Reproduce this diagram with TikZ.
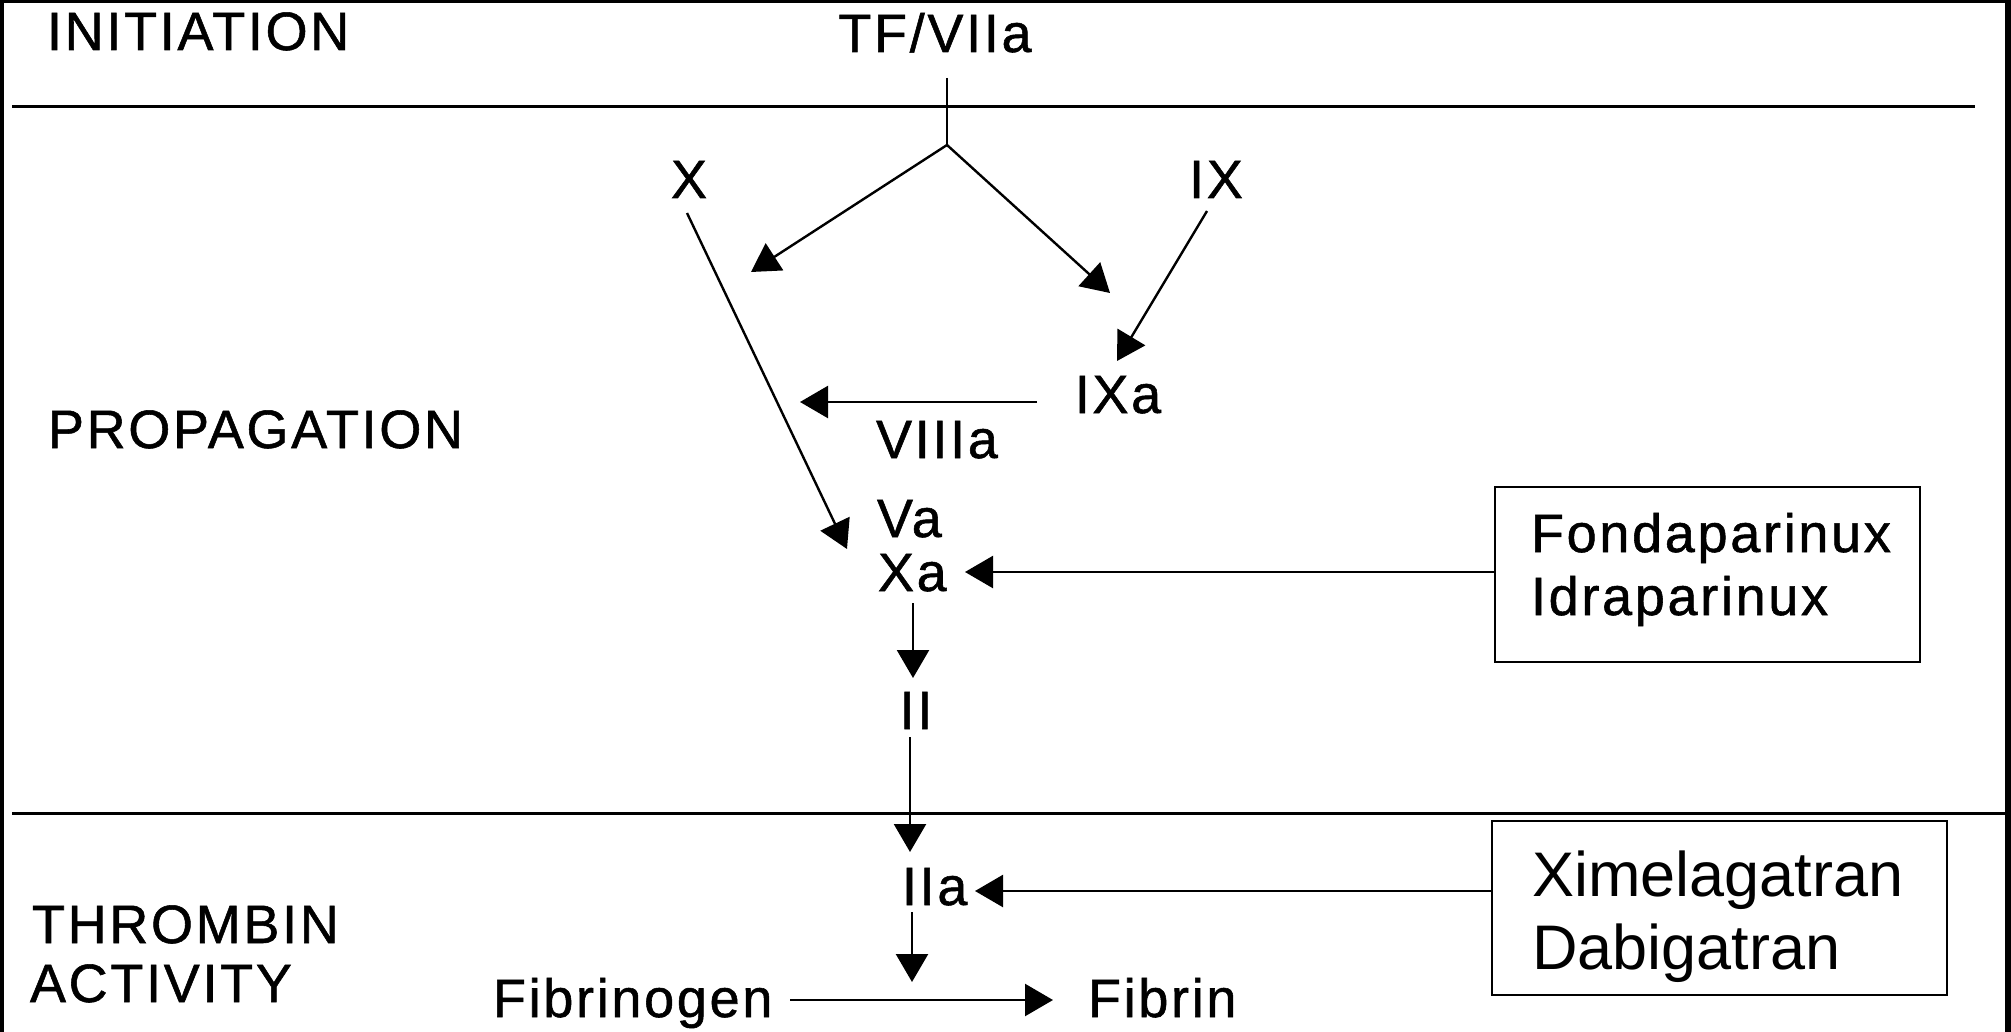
\documentclass[tikz,border=0pt]{standalone}
\usepackage{fontspec}
\setmainfont{Liberation Sans}
\newfontfamily\labf[LetterSpace=5,FakeBold=1]{Liberation Sans}
\usetikzlibrary{arrows.meta}
\begin{document}
\begin{tikzpicture}[x=0.5pt,y=-0.5pt,
  lab/.style={font=\labf\fontsize{27pt}{32pt}\selectfont, inner sep=0pt, outer sep=0pt},
  drug/.style={font=\fontsize{31.5pt}{36pt}\selectfont, inner sep=0pt, outer sep=0pt},
  conn/.style={line width=1.2pt},
  arr/.style={conn, -{Triangle[length=14pt,width=16pt]}},
  rulel/.style={line width=1.5pt},
  boxa/.style={draw, line width=1.4pt, inner sep=0pt, outer sep=0pt},
  boxb/.style={draw, line width=1pt, inner sep=0pt, outer sep=0pt}
]
\useasboundingbox (0,0) rectangle (2011,1032);
\fill[white] (0,0) rectangle (2011,1032);
% frame
\fill[black] (0,0) rectangle (2011,3);
\fill[black] (0,0) rectangle (4,1032);
\fill[black] (2005,0) rectangle (2011,1032);

% section rules
\coordinate (r1a) at (12,107);
\coordinate (r1b) at (1975,107);
\coordinate (r2a) at (12,813);
\coordinate (r2b) at (2005,813);
\draw[rulel] (r1a) -- (r1b);
\draw[rulel] (r2a) -- (r2b);

% labels
\node[lab, anchor=base west] (init) at (47,50) {INITIATION};
\node[lab, anchor=base] (tf) at (935,52) {TF/VIIa};
\node[lab, anchor=base west] (prop) at (48,448) {PROPAGATION};
\node[lab, anchor=base west] (thr) at (32,943) {THROMBIN};
\node[lab, anchor=base west] (act) at (30,1002) {ACTIVITY};
\node[lab, anchor=base] (x) at (689,198) {X};
\node[lab, anchor=base] (ix) at (1216,198) {IX};
\node[lab, anchor=base] (ixa) at (1118,413) {IXa};
\node[lab, anchor=base] (viiia) at (937,458) {VIIIa};
\node[lab, anchor=base west] (va) at (877,537) {Va};
\node[lab, anchor=base west] (xa) at (878,591) {Xa};
\node[lab, anchor=base] (ii) at (916,729) {II};
\node[lab, anchor=base west] (iia) at (902,905) {IIa};
\node[lab, anchor=base west] (fgen) at (493,1017) {Fibrinogen};
\node[lab, anchor=base west] (fib) at (1088,1017) {Fibrin};

% drug boxes
\node[boxa, minimum width=212.5pt, minimum height=87.5pt] (b1) at (1707.5,574.5) {};
\node[lab, anchor=base west] (b1a) at (1531,552) {Fondaparinux};
\node[lab, anchor=base west] (b1b) at (1531,615) {Idraparinux};
\node[boxb, minimum width=227.5pt, minimum height=87pt] (b2) at (1719.5,908) {};
\node[drug, anchor=base west] (b2a) at (1532,896) {Ximelagatran};
\node[drug, anchor=base west] (b2b) at (1532,969) {Dabigatran};

% connector end points
\coordinate (tfb) at (947,78);
\coordinate (jn) at (947,145);
\coordinate (tipL) at (751,272);
\coordinate (tipR) at (1110,293);
\coordinate (xs) at (687,213);
\coordinate (xt) at (847,549);
\coordinate (ixs) at (1207,211);
\coordinate (ixt) at (1117,361);
\coordinate (ixas) at (1037,402);
\coordinate (ixat) at (800,402);
\coordinate (xatip) at (965,572);
\coordinate (xas) at (913,603);
\coordinate (iit) at (913,678);
\coordinate (iis) at (910,737);
\coordinate (iiat) at (910,852);
\coordinate (iiatip) at (975,891);
\coordinate (iias) at (912,912);
\coordinate (iiad) at (912,982);
\coordinate (fgs) at (790,1000);
\coordinate (fbt) at (1053,1000);

% connectors
\draw[conn] (tfb) -- (jn);
\draw[arr] (jn) -- (tipL);
\draw[arr] (jn) -- (tipR);
\draw[arr] (xs) -- (xt);
\draw[arr] (ixs) -- (ixt);
\draw[arr] (ixas) -- (ixat);
\draw[arr] (b1.west |- xatip) -- (xatip);
\draw[arr] (xas) -- (iit);
\draw[arr] (iis) -- (iiat);
\draw[arr] (b2.west |- iiatip) -- (iiatip);
\draw[arr] (iias) -- (iiad);
\draw[arr] (fgs) -- (fbt);
\end{tikzpicture}
\end{document}
